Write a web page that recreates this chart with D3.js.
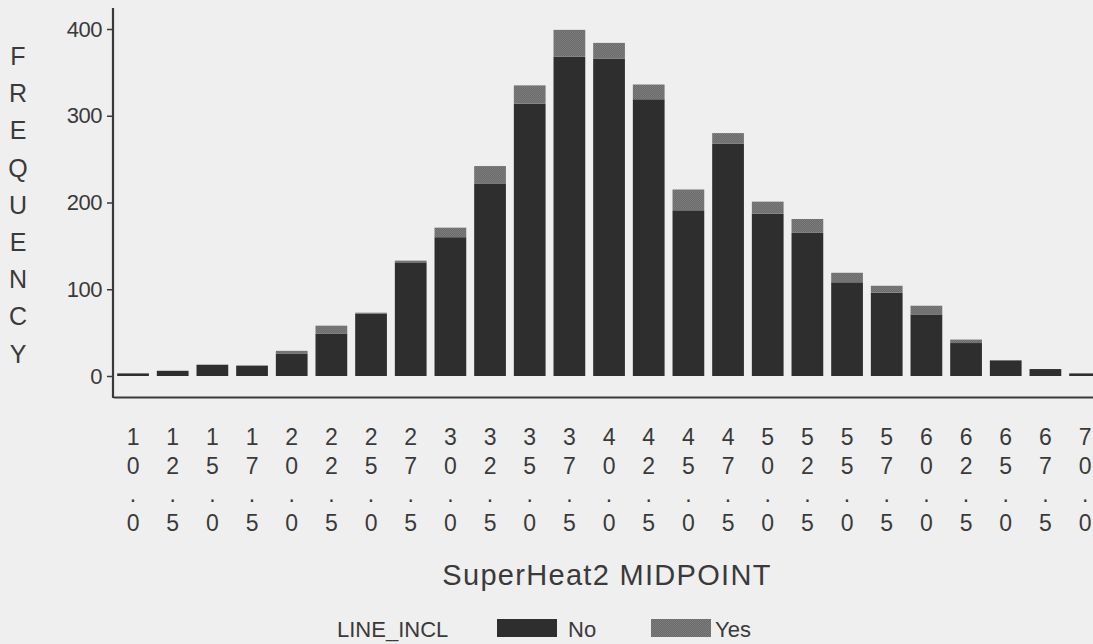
<!DOCTYPE html>
<html>
<head>
<meta charset="utf-8">
<script src="https://cdn.jsdelivr.net/npm/d3@7"></script>
<style>
  html, body { margin: 0; padding: 0; background: #efefef; }
  svg { display: block; }
  text { font-family: "Liberation Sans", Arial, Helvetica, sans-serif; fill: #3a3a3a; }
</style>
</head>
<body>
<svg id="chart" width="1093" height="644"></svg>
<script>
// SuperHeat2 midpoints (bin labels)
const midpoints = ["10.0","12.5","15.0","17.5","20.0","22.5","25.0","27.5","30.0","32.5","35.0","37.5",
                   "40.0","42.5","45.0","47.5","50.0","52.5","55.0","57.5","60.0","62.5","65.0","67.5","70.0"];
// Frequency per bin, split by LINE_INCL
const countNo  = [3, 6, 13, 12, 26, 49, 72, 131, 160, 222, 314, 368, 366, 319, 191, 268, 187, 165, 108, 96, 71, 38, 18, 8, 3];
const countYes = [0, 0, 0, 0, 3, 9, 1, 2, 11, 20, 21, 31, 18, 17, 24, 12, 14, 16, 11, 8, 10, 4, 0, 0, 0];
const yTicks = [0, 100, 200, 300, 400];
const groups = ["No", "Yes"];
const yTitle = "FREQUENCY";
const xTitle = "SuperHeat2 MIDPOINT";
const legendTitle = "LINE_INCL";

const svg = d3.select("#chart");
const defs = svg.append("defs");

// fine dither fill for the "Yes" segment
const pat = defs.append("pattern")
  .attr("id", "dither").attr("width", 2).attr("height", 2)
  .attr("patternUnits", "userSpaceOnUse");
pat.append("rect").attr("width", 2).attr("height", 2).attr("fill", "#6b6b6b");
pat.append("rect").attr("width", 1).attr("height", 1).attr("fill", "#7c7c7c");
pat.append("rect").attr("x", 1).attr("y", 1).attr("width", 1).attr("height", 1).attr("fill", "#7c7c7c");

const colors = { No: "#2e2e2e", Yes: "url(#dither)" };

// layout
const axisX = 113, axisBottomY = 397, axisTopY = 8;

const x = d3.scaleBand()
  .domain(midpoints)
  .range([113.2, 1104.9])
  .paddingInner(0.2)
  .paddingOuter(0.1);

const y = d3.scaleLinear().domain([0, 400]).range([376, 29]);

const rows = midpoints.map((m, i) => ({ m, No: countNo[i], Yes: countYes[i] }));
const stacked = d3.stack().keys(groups)(rows);

// bars
svg.append("g")
  .selectAll("g")
  .data(stacked)
  .join("g")
  .attr("fill", d => colors[d.key])
  .selectAll("rect")
  .data(d => d)
  .join("rect")
  .attr("x", d => x(d.data.m))
  .attr("width", x.bandwidth())
  .attr("y", d => y(d[1]))
  .attr("height", d => Math.max(0, y(d[0]) - y(d[1])));

// y axis
const gy = svg.append("g")
  .attr("transform", `translate(${axisX},0)`)
  .call(d3.axisLeft(y).tickValues(yTicks).tickSize(6).tickPadding(5).tickSizeOuter(0));
gy.select(".domain").remove();
gy.selectAll(".tick line").attr("stroke", "#3a3a3a").attr("stroke-width", 1.5);
gy.selectAll(".tick text")
  .style("font-size", "22px")
  .attr("letter-spacing", "-0.5")
  .attr("fill", "#3a3a3a");
svg.append("line")
  .attr("x1", axisX).attr("x2", axisX)
  .attr("y1", axisTopY).attr("y2", axisBottomY + 1)
  .attr("stroke", "#3a3a3a").attr("stroke-width", 2.2);

// x axis with vertically stacked characters
const gx = svg.append("g")
  .attr("transform", `translate(0,${axisBottomY})`)
  .call(d3.axisBottom(x).tickSize(0).tickSizeOuter(0).tickPadding(0));
gx.select(".domain").attr("stroke", "#3a3a3a").attr("stroke-width", 2.2);
gx.selectAll(".tick text").each(function(d) {
  const t = d3.select(this);
  t.text(null).attr("y", 0).attr("dy", null)
    .style("font-size", "23px").attr("fill", "#3a3a3a");
  d.split("").forEach((ch, k) => {
    t.append("tspan").attr("x", 0).attr("y", 48 + k * 28.5).text(ch);
  });
});

// y title: letters stacked vertically
const yt = svg.append("text")
  .attr("text-anchor", "middle")
  .style("font-size", "25px");
yTitle.split("").forEach((ch, k) => {
  yt.append("tspan").attr("x", 18).attr("y", 65 + k * 37.2).text(ch);
});

// x title
svg.append("text")
  .attr("x", 607).attr("y", 585)
  .attr("text-anchor", "middle")
  .attr("letter-spacing", "1.3")
  .style("font-size", "29px")
  .text(xTitle);

// legend
const lg = svg.append("g");
lg.append("text").attr("x", 337).attr("y", 637).style("font-size", "22px").text(legendTitle);
const items = [
  { key: "No", sx: 497, tx: 568 },
  { key: "Yes", sx: 651, tx: 715 }
];
items.forEach(it => {
  lg.append("rect").attr("x", it.sx).attr("y", 619).attr("width", 60).attr("height", 18)
    .attr("fill", colors[it.key]);
  lg.append("text").attr("x", it.tx).attr("y", 637).style("font-size", "22px").text(it.key);
});
</script>
</body>
</html>
